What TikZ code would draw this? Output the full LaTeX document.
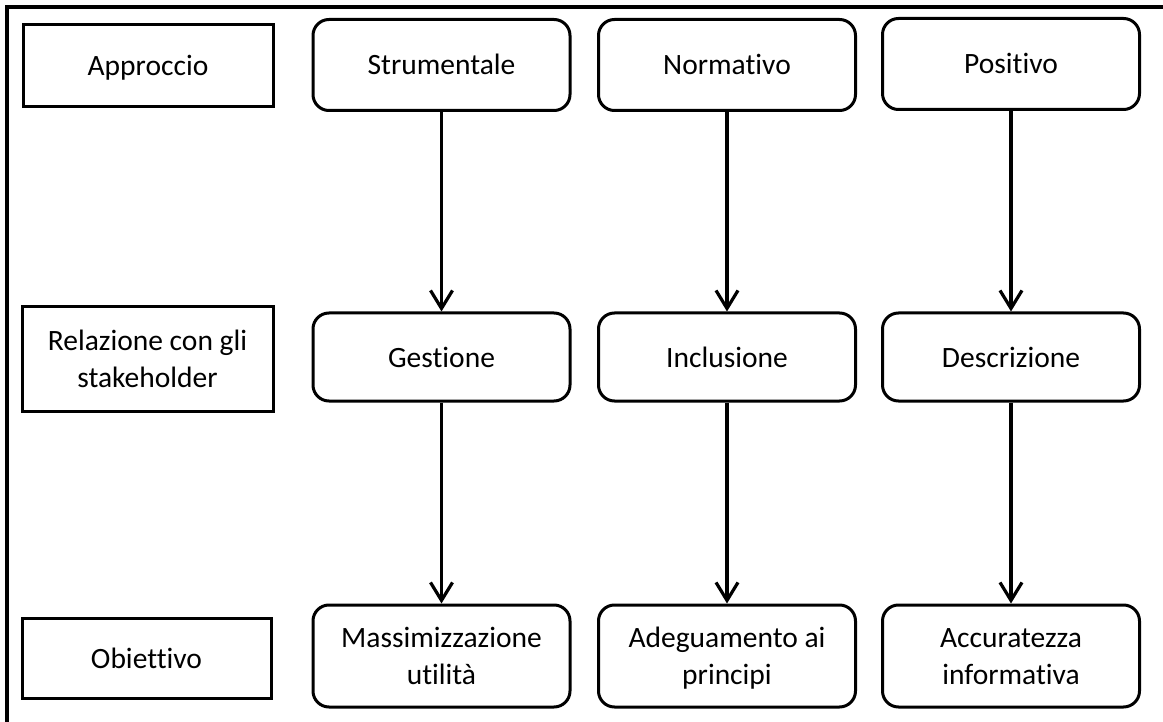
\documentclass[tikz,border=0pt]{standalone}
\usepackage{fontspec}
\setmainfont{Carlito}[Ligatures={NoCommon},RawFeature={-liga;-clig;-dlig}]
\usetikzlibrary{arrows.meta}
\newcommand{\tstr}{\rule[-8pt]{0pt}{36pt}}
\begin{document}
\begin{tikzpicture}[x=1pt,y=-1pt,
  lab/.style={draw, line width=3pt, align=center, inner sep=0pt, font=\fontsize{29.5}{34}\selectfont},
  catbox/.style={lab},
  colbox/.style={lab, rounded corners=16pt, minimum width=257pt},
  conn/.style={line width=3.2pt, -{Straight Barb[length=18pt,width=22pt,line width=3.2pt]}}]
\useasboundingbox (0,0) rectangle (1163,722);
\coordinate (fbl) at (7,722);
\coordinate (ftl) at (7,7);
\coordinate (ftr) at (1163,7);
\draw[line width=3.2pt] (fbl) -- (ftl) -- (ftr);
% row labels
\node[catbox, minimum width=250pt, minimum height=82pt] (approccio) at (148,66) {\tstr Approccio};
\node[catbox, minimum width=251pt, minimum height=104pt] (relazione) at (147.5,359) {\tstr Relazione con gli\\stakeholder\tstr};
\node[catbox, minimum width=249pt, minimum height=80pt] (obiettivo) at (146.5,658) {\tstr Obiettivo};
% top row
\node[colbox, minimum height=91pt] (strum) at (441.5,65) {\tstr Strumentale};
\node[colbox, minimum height=91pt] (norm) at (727,65) {\tstr Normativo};
\node[colbox, minimum height=91pt] (pos) at (1011,64) {\tstr Positivo};
% middle row
\node[colbox, minimum height=88pt] (gest) at (441.5,357) {\tstr Gestione};
\node[colbox, minimum height=88pt] (incl) at (727,357) {\tstr Inclusione};
\node[colbox, minimum height=88pt] (descr) at (1011,357) {\tstr Descrizione};
% bottom row
\node[colbox, minimum height=102pt] (mass) at (441.5,656) {\tstr Massimizzazione\\utilità\tstr};
\node[colbox, minimum height=102pt] (adeg) at (727,656) {\tstr Adeguamento ai\\principi\tstr};
\node[colbox, minimum height=102pt] (accu) at (1011,656) {\tstr Accuratezza\\informativa\tstr};
% connectors
\draw[conn] (strum) -- (gest);
\draw[conn] (norm) -- (incl);
\draw[conn] (pos) -- (descr);
\draw[conn] (gest) -- (mass);
\draw[conn] (incl) -- (adeg);
\draw[conn] (descr) -- (accu);
\end{tikzpicture}
\end{document}
